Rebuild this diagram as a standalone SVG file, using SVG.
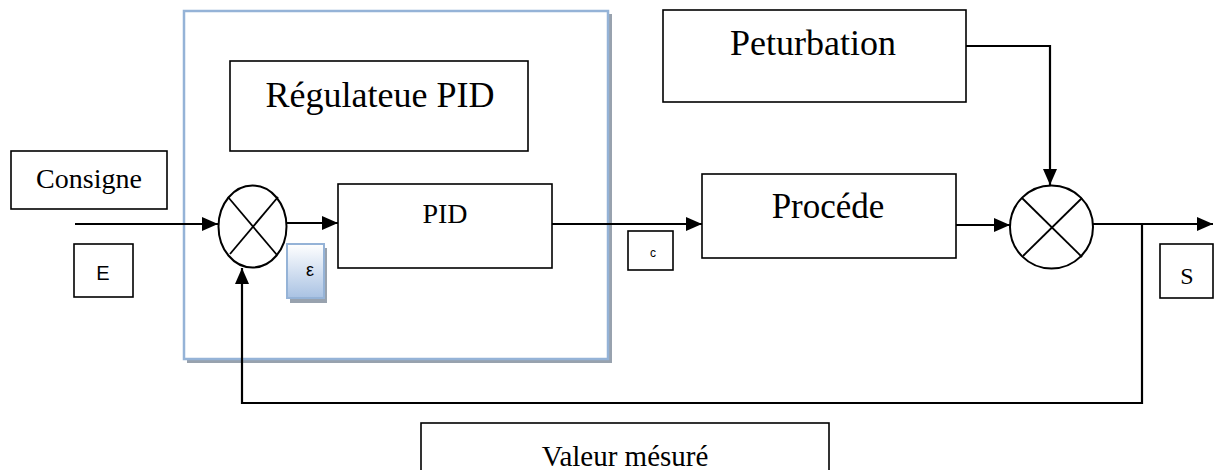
<svg xmlns="http://www.w3.org/2000/svg" width="1216" height="470" viewBox="0 0 1216 470">
<style>
.box{fill:#fff;stroke:#000;stroke-width:1.6}
.ln{fill:none;stroke:#000;stroke-width:2.2}
.sum{fill:#fff;stroke:#000;stroke-width:2}
.x{stroke:#000;stroke-width:1.8}
.serif{font-family:"Liberation Serif","Times New Roman",serif;fill:#000;text-anchor:middle}
.sans{font-family:"Liberation Sans",Arial,sans-serif;fill:#000;text-anchor:middle}
</style>
<defs>
<marker id="arr" markerUnits="userSpaceOnUse" markerWidth="17" markerHeight="15" refX="16" refY="7" orient="auto">
<path d="M0,0 L16,7 L0,14 z" fill="#000"/>
</marker>
<linearGradient id="eg" x1="0" y1="0" x2="0" y2="1">
<stop offset="0" stop-color="#ffffff"/>
<stop offset="1" stop-color="#a9c2e3"/>
</linearGradient>
<clipPath id="bottomclip"><rect x="0" y="0" width="1216" height="470"/></clipPath>
</defs>

<g id="frame">
<rect x="187" y="14" width="425" height="349" fill="#98a2ae"/>
<rect x="184" y="11" width="424" height="348" fill="#fff" stroke="#95b3d7" stroke-width="2.5"/>
</g>

<g id="regulateur-label">
<rect class="box" x="230" y="61" width="298" height="90"/>
<text class="serif" x="380" y="107" font-size="36">Régulateue PID</text>
</g>

<g id="consigne">
<rect class="box" x="11" y="151" width="156" height="58"/>
<text class="serif" x="89" y="188" font-size="28">Consigne</text>
</g>

<g id="E">
<rect class="box" x="74" y="244" width="59" height="53"/>
<text class="sans" x="103" y="280" font-size="20">E</text>
</g>

<g id="sum1">
<ellipse class="sum" cx="252.5" cy="226.5" rx="34" ry="41"/>
<line class="x" x1="228" y1="197" x2="277" y2="255"/>
<line class="x" x1="278" y1="197" x2="230" y2="254"/>
</g>

<g id="epsilon">
<rect x="290" y="248" width="37" height="55" fill="#98a2ae"/>
<rect x="287" y="244" width="37" height="54" fill="url(#eg)" stroke="#95b3d7" stroke-width="2"/>
<text class="sans" x="310" y="276" font-size="18">ε</text>
</g>

<g id="pid">
<rect class="box" x="338" y="184" width="214" height="84"/>
<text class="serif" x="445" y="223" font-size="28">PID</text>
</g>

<g id="c">
<rect class="box" x="628" y="231" width="45" height="39"/>
<text class="sans" x="653" y="257" font-size="12">c</text>
</g>

<g id="procede">
<rect class="box" x="702" y="174" width="254" height="84"/>
<text class="serif" x="828" y="218" font-size="35">Procéde</text>
</g>

<g id="perturbation">
<rect class="box" x="663" y="10" width="303" height="92"/>
<text class="serif" x="813" y="55" font-size="36">Peturbation</text>
</g>

<g id="sum2">
<circle class="sum" cx="1051.5" cy="227" r="41.5"/>
<line class="x" x1="1022" y1="198" x2="1082" y2="257"/>
<line class="x" x1="1082" y1="198" x2="1023" y2="256"/>
</g>

<g id="S">
<rect class="box" x="1160" y="244" width="53" height="54"/>
<text class="serif" x="1187" y="284" font-size="24">S</text>
</g>

<g id="valeur">
<rect class="box" x="421" y="423" width="408" height="60"/>
<text class="serif" x="625" y="466" font-size="29" clip-path="url(#bottomclip)">Valeur mésuré</text>
</g>

<g id="connectors">
<line class="ln" x1="75" y1="224" x2="218" y2="224" marker-end="url(#arr)"/>
<line class="ln" x1="287" y1="223" x2="338" y2="223" marker-end="url(#arr)"/>
<line class="ln" x1="552" y1="224" x2="702" y2="224" marker-end="url(#arr)"/>
<line class="ln" x1="956" y1="225" x2="1010" y2="225" marker-end="url(#arr)"/>
<polyline class="ln" points="966,46 1050,46 1050,185" marker-end="url(#arr)"/>
<line class="ln" x1="1093" y1="224" x2="1213" y2="224" marker-end="url(#arr)"/>
<polyline class="ln" points="1142,224 1142,403 242,403 242,268" marker-end="url(#arr)"/>
</g>
</svg>
